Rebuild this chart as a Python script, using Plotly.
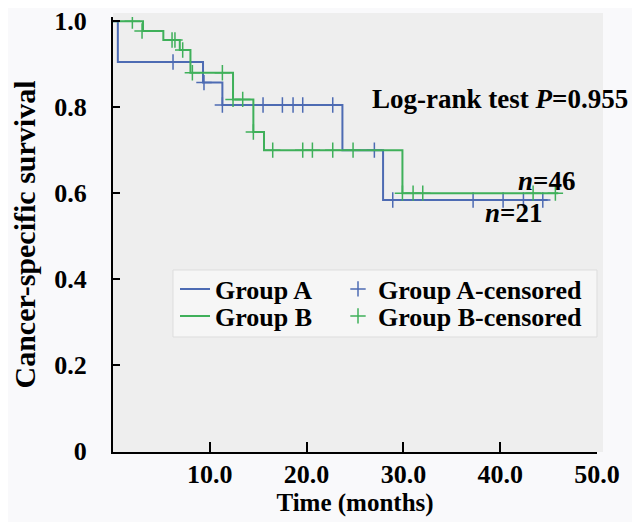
import plotly.graph_objects as go

# Group A (n=21) Kaplan-Meier steps
a_time = [0, 0.5, 9.3, 11.3, 23.7, 27.9, 44.9]
a_surv = [1.0, 0.905, 0.857, 0.805, 0.70, 0.584, 0.584]
a_cens_time = [6.2, 9.4, 11.3, 15.5, 17.5, 18.6, 19.6, 22.7, 27.0, 28.9, 37.2, 40.3, 42.4, 44.4]
a_cens_surv = [0.905, 0.857, 0.805, 0.805, 0.805, 0.805, 0.805, 0.805, 0.70, 0.584, 0.584, 0.584, 0.584, 0.584]

# Group B (n=46)
b_time = [0, 3.1, 5.2, 6.9, 8.0, 12.4, 14.5, 15.6, 29.9, 46.0]
b_surv = [1.0, 0.977, 0.956, 0.933, 0.88, 0.818, 0.742, 0.70, 0.60, 0.60]
b_cens_time = [2.0, 3.0, 6.1, 6.4, 7.2, 8.2, 11.3, 12.4, 13.4, 14.5, 16.5, 19.6, 20.6, 22.7, 24.8, 29.9, 31.0, 32.0, 43.4, 45.7]
b_cens_surv = [1.0, 0.977, 0.956, 0.956, 0.933, 0.88, 0.88, 0.818, 0.818, 0.742, 0.70, 0.70, 0.70, 0.70, 0.70, 0.60, 0.60, 0.60, 0.60, 0.60]

x_ticks = [10, 20, 30, 40, 50]
x_labels = ["10.0", "20.0", "30.0", "40.0", "50.0"]
y_ticks = [0, 0.2, 0.4, 0.6, 0.8, 1.0]
y_labels = ["0", "0.2", "0.4", "0.6", "0.8", "1.0"]

BLUE = "#4d6bb3"
GREEN = "#3fb05a"
FONT = "Liberation Serif"

fig = go.Figure()
fig.add_trace(go.Scatter(x=a_time, y=a_surv, mode="lines", line=dict(color=BLUE, width=2, shape="hv"),
                         name="Group A", legend="legend"))
fig.add_trace(go.Scatter(x=a_cens_time, y=a_cens_surv, mode="markers",
                         marker=dict(symbol="cross-thin", size=11, line=dict(color=BLUE, width=1.5)),
                         name="Group A-censored", legend="legend2"))
fig.add_trace(go.Scatter(x=b_time, y=b_surv, mode="lines", line=dict(color=GREEN, width=2, shape="hv"),
                         name="Group B", legend="legend3"))
fig.add_trace(go.Scatter(x=b_cens_time, y=b_cens_surv, mode="markers",
                         marker=dict(symbol="cross-thin", size=11, line=dict(color=GREEN, width=1.5)),
                         name="Group B-censored", legend="legend4"))

leg_font = dict(family=FONT, size=26, color="black", weight="bold")
def leg(x, y):
    return dict(x=x, y=y, xanchor="left", yanchor="middle", bgcolor="rgba(0,0,0,0)",
                borderwidth=0, font=leg_font)

W, H = 484.0, 435.0
def px(xp):
    return (xp - 113) / W
def py(yp):
    return (452 - yp) / H

# page body adds an 8px offset, so the figure is drawn 8px smaller with margins shifted
fig.update_layout(
    width=632, height=514,
    margin=dict(l=105, r=43, t=9, b=70, autoexpand=False),
    paper_bgcolor="#f9f9fb",
    plot_bgcolor="#eeeeee",
    font=dict(family=FONT, size=26, color="black", weight="bold"),
    showlegend=True,
    legend=leg(px(175), py(289)),
    legend2=leg(px(338), py(289)),
    legend3=leg(px(175), py(316)),
    legend4=leg(px(338), py(316)),
    shapes=[
        dict(type="rect", xref="paper", yref="paper", x0=0, x1=px(603), y0=0, y1=py(13),
             fillcolor="#eeeeee", line=dict(width=0), layer="below"),
        dict(type="rect", xref="paper", yref="paper", x0=px(173), x1=px(597), y0=py(337), y1=py(270),
             fillcolor="#f6f6f6", line=dict(color="#dddddd", width=1), layer="below"),
    ],
    annotations=[
        dict(text="Log-rank test <i>P</i>=0.955", xref="paper", yref="paper", x=px(370), y=py(99),
             xanchor="left", yanchor="middle", showarrow=False, font=dict(size=27)),
        dict(text="<i>n</i>=46", xref="paper", yref="paper", x=px(516), y=py(181),
             xanchor="left", yanchor="middle", showarrow=False, font=dict(size=27)),
        dict(text="<i>n</i>=21", xref="paper", yref="paper", x=px(483), y=py(213),
             xanchor="left", yanchor="middle", showarrow=False, font=dict(size=27)),
    ],
)

fig.update_xaxes(range=[0, 50], tickvals=x_ticks, ticktext=x_labels,
                 ticks="inside", ticklen=10, tickwidth=2, tickcolor="black",
                 showline=True, linecolor="black", linewidth=2, showgrid=False, zeroline=False,
                 tickfont=dict(size=26), ticklabelstandoff=-2, automargin=False,
                 ticklabeloverflow="allow",
                 title=dict(text="Time (months)", font=dict(size=25), standoff=2))
fig.update_yaxes(range=[-0.002, 1.0096], tickvals=y_ticks, ticktext=y_labels,
                 ticks="inside", ticklen=7, tickwidth=2, tickcolor="black",
                 showline=True, linecolor="black", linewidth=2, showgrid=False, zeroline=False,
                 tickfont=dict(size=26), ticklabelstandoff=19, automargin=False,
                 ticklabeloverflow="allow",
                 title=dict(text="Cancer-specific survival", font=dict(size=30), standoff=14))

fig.write_html("out.html")
